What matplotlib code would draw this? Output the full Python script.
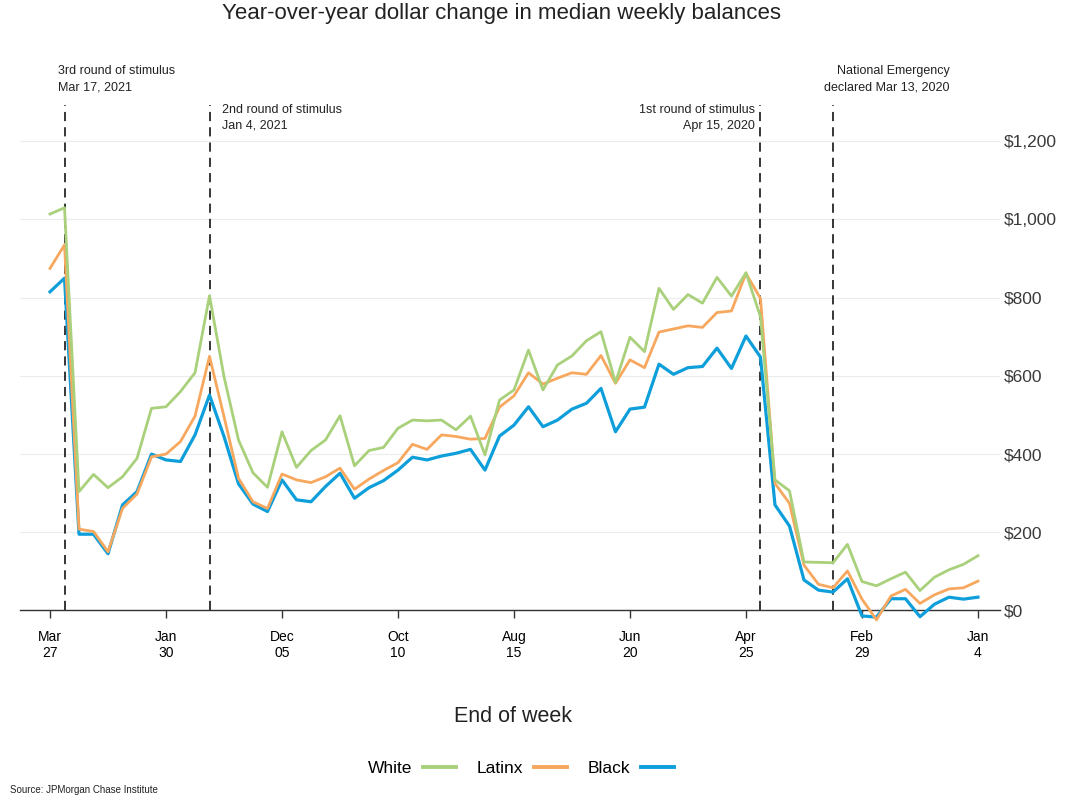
import numpy as np
import matplotlib
matplotlib.use("Agg")
import matplotlib.pyplot as plt

plt.rcParams['font.family'] = ['Liberation Sans', 'DejaVu Sans']

# weekly data, week 0 = week ending Jan 4, 2020 ... week 64 = Mar 27, 2021
weeks = np.arange(65)

black = [34, 29, 34, 16, -16, 30, 30, -17, -14, 81,
         47, 52, 78, 216, 270, 648, 702, 619, 671, 624,
         621, 604, 630, 520, 515, 457, 568, 530, 515, 487,
         470, 521, 474, 446, 359, 412, 402, 395, 385, 392,
         359, 332, 314, 287, 351, 317, 278, 283, 334, 253,
         272, 324, 445, 551, 449, 381, 385, 400, 304, 270,
         145, 195, 195, 850, 815]

latinx = [75, 58, 55, 40, 18, 54, 37, -24, 29, 101,
          58, 67, 116, 274, 325, 798, 862, 766, 762, 724,
          728, 720, 712, 621, 641, 581, 652, 604, 608, 594,
          579, 608, 549, 520, 440, 438, 445, 449, 412, 425,
          378, 358, 336, 310, 364, 342, 327, 334, 349, 261,
          278, 338, 496, 650, 497, 432, 400, 393, 298, 261,
          150, 202, 208, 935, 875]

white = [140, 118, 104, 85, 51, 98, 81, 63, 74, 169,
         122, 123, 124, 306, 334, 751, 864, 804, 852, 786,
         808, 770, 824, 662, 699, 583, 713, 690, 651, 628,
         564, 666, 564, 538, 398, 497, 462, 487, 485, 487,
         466, 417, 409, 370, 498, 436, 409, 366, 457, 315,
         352, 436, 598, 805, 608, 560, 521, 517, 389, 342,
         314, 348, 304, 1030, 1014]

tick_weeks = [0, 8, 16, 24, 32, 40, 48, 56, 64]
tick_labels = ["Jan\n4", "Feb\n29", "Apr\n25", "Jun\n20", "Aug\n15",
               "Oct\n10", "Dec\n05", "Jan\n30", "Mar\n27"]

y_ticks = [0, 200, 400, 600, 800, 1000, 1200]
y_labels = ["$0", "$200", "$400", "$600", "$800", "$1,000", "$1,200"]

# event lines (week index) and their notes
event_weeks = [10, 15, 53, 63]
event_text = ["National Emergency\ndeclared Mar 13, 2020",
              "1st round of stimulus\nApr 15, 2020",
              "2nd round of stimulus\nJan 4, 2021",
              "3rd round of stimulus\nMar 17, 2021"]
text_x = [1.93, 15.38, 52.14, 63.45]
text_y = [1359, 1260, 1260, 1359]
text_ha = ["right", "right", "left", "left"]

colors = {"Black": "#0e9fdb", "Latinx": "#f7a85e", "White": "#a9d07a"}

fig = plt.figure(figsize=(10.71, 8.01), dpi=100)
ax = fig.add_axes([20 / 1071, (801 - 626.1) / 801, 980 / 1071, (626.1 - 102.2) / 801])

ax.plot(weeks, black, color=colors["Black"], lw=2.3, label="Black", zorder=3)
ax.plot(weeks, latinx, color=colors["Latinx"], lw=2.0, label="Latinx", zorder=3)
ax.plot(weeks, white, color=colors["White"], lw=2.0, label="White", zorder=3)

ax.vlines(event_weeks, 0, 1293, colors="black", linestyles=(0, (6, 4)), lw=1.1, zorder=2)
for x, y, t, ha in zip(text_x, text_y, event_text, text_ha):
    ax.text(x, y, t, ha=ha, va="center", fontsize=9, linespacing=1.45, color="#222222")

ax.set_xlim(66.07, -1.52)
ax.set_ylim(-40, 1300)

ax.set_xticks(tick_weeks)
ax.set_xticklabels(tick_labels, fontsize=12.5, color="#3a3a3a", linespacing=1.5)
ax.set_yticks(y_ticks)
ax.set_yticklabels(y_labels, fontsize=12.5, color="#3a3a3a")
ax.yaxis.tick_right()
ax.tick_params(axis="y", length=0, pad=3)
ax.tick_params(axis="x", length=6, width=1, color="#333333", pad=8)

for s in ["top", "left", "right"]:
    ax.spines[s].set_visible(False)
ax.spines["bottom"].set_position(("data", 0))
ax.spines["bottom"].set_color("#333333")
ax.spines["bottom"].set_linewidth(1.0)

ax.grid(axis="y", color="#ececec", lw=0.8, zorder=0)
ax.set_axisbelow(True)

fig.text(502 / 1071, 1 - 13 / 801, "Year-over-year dollar change in median weekly balances",
         ha="center", va="center", fontsize=16, color="#222222")
fig.text(513 / 1071, 1 - 717 / 801, "End of week", ha="center", va="center",
         fontsize=15.5, color="#222222")
fig.text(10 / 1071, 1 - 790 / 801, "Source: JPMorgan Chase Institute", ha="left",
         va="center", fontsize=7, color="#222222")

handles, labels = ax.get_legend_handles_labels()
leg = fig.legend(handles[::-1], labels[::-1], loc="center", ncol=3,
                 bbox_to_anchor=(521 / 1071, 1 - 768 / 801), frameon=False,
                 fontsize=12.5, markerfirst=False, handlelength=1.9,
                 handletextpad=0.6, columnspacing=1.2)
for line in leg.get_lines():
    line.set_linewidth(2.8)

fig.savefig("out.png", dpi=100)
